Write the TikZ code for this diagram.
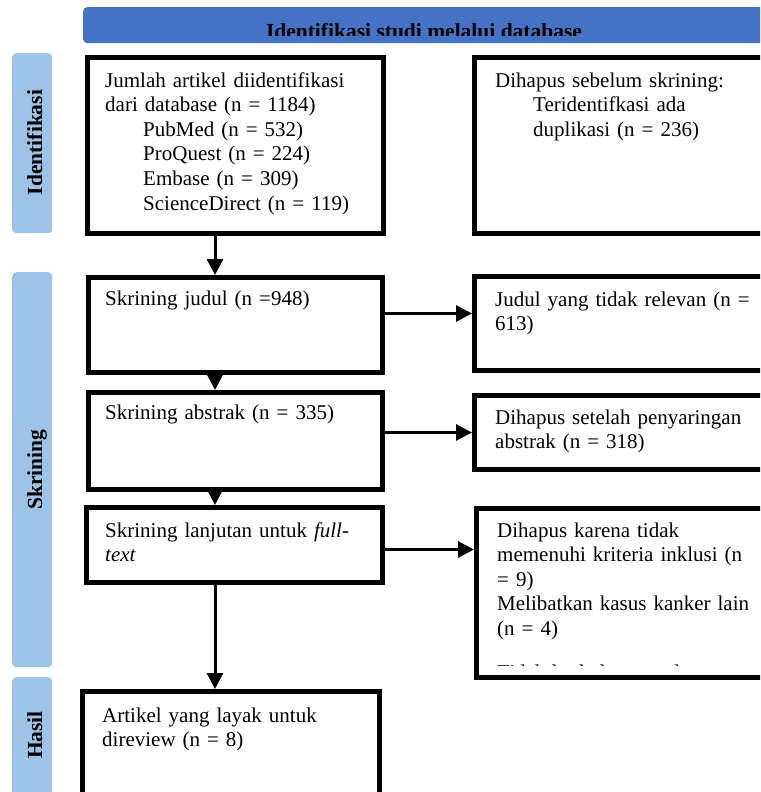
\documentclass[tikz,border=0pt]{standalone}
\usepackage{fontspec}
\setmainfont{Liberation Serif}
\usetikzlibrary{arrows.meta}
\definecolor{hdrblue}{HTML}{4472C4}
\definecolor{sideblue}{HTML}{9DC3E6}

\begin{document}
\begin{tikzpicture}[x=1pt, y=-1pt,
    frame/.style={draw, line width=5pt, anchor=north west, inner sep=0pt},
    side/.style={fill=sideblue, rounded corners=4pt, anchor=north west, inner sep=0pt},
    txt/.style={anchor=base west, inner sep=0pt, text width=275pt, align=left,
        font=\fontsize{21}{24.6}\selectfont},
    lbl/.style={rotate=90, anchor=base, inner sep=0pt,
        font=\fontsize{21.5}{24.6}\selectfont\bfseries},
    flow/.style={line width=3pt, -{Triangle[length=16pt, width=16pt]}}
]
    % Page size and clipping
    \useasboundingbox (0,0) rectangle (760,792);
    \clip (0,0) rectangle (760,792);
    \def\ind{\hspace*{38pt}}

    % Header bar
    \node[fill=hdrblue, rounded corners=4pt, anchor=north west, inner sep=0pt,
        minimum width=682pt, minimum height=36pt] (hdr) at (83,7) {};
    \begin{scope}
        \clip (83,7) rectangle (765,35.5);
        \node[anchor=base, inner sep=0pt, font=\fontsize{21.5}{24.6}\selectfont\bfseries]
            (hdrtext) at (424,39) {Identifikasi studi melalui database};
    \end{scope}

    % Side labels
    \foreach \name/\y/\h/\cy/\label in {
        sideid/53/180/142.5/Identifikasi,
        sidesk/272/395/469.5/Skrining,
        sidehs/677/125/735/Hasil
    } {
        \node[side, minimum width=40pt, minimum height=\h pt] (\name) at (12,\y) {};
        \node[lbl] (\name text) at (42,\cy) {\label};
    }

    % Frames
    \foreach \name/\x/\y/\w/\h in {
        b1/85/55/296/176,
        b2/472/55/300/176,
        b3/86/275/294/95,
        b4/472/274/300/94,
        b5/86/390/294/97,
        b6/472/393/300/74,
        b7/84/505/296/75,
        b8/474/506/300/169,
        b9/80/689/297/120
    } {
        \node[frame, minimum width=\w pt, minimum height=\h pt] (\name) at (\x,\y) {};
    }

    % Texts
    \node[txt] (t1) at (105,87) {Jumlah artikel diidentifikasi\\dari database (n = 1184)\\
        \ind PubMed (n = 532)\\\ind ProQuest (n = 224)\\\ind Embase (n = 309)\\
        \ind ScienceDirect (n = 119)};
    \node[txt] (t2) at (495,87) {Dihapus sebelum skrining:\\\ind Teridentifkasi ada\\
        \ind duplikasi (n = 236)};
    \node[txt] (t3) at (105,305) {Skrining judul (n =948)};
    \node[txt] (t4) at (495,306) {Judul yang tidak relevan (n =\\613)};
    \node[txt] (t5) at (105,419) {Skrining abstrak (n = 335)};
    \node[txt] (t6) at (495,424) {Dihapus setelah penyaringan\\abstrak (n = 318)};
    \node[txt] (t7) at (105,537) {Skrining lanjutan untuk \textit{full-}\\\textit{text}};
    \node[txt] (t8) at (497,537) {Dihapus karena tidak\\memenuhi kriteria inklusi (n\\
        = 9)\\Melibatkan kasus kanker lain\\(n = 4)};
    \begin{scope}
        \clip (476,650) rectangle (770,665);
        \node[txt] (t8b) at (497,679) {Tidak berhubungan dengan topik (};
    \end{scope}
    \node[txt] (t9) at (102,722) {Artikel yang layak untuk\\direview (n = 8)};

    % Arrows down the main column
    \coordinate (spine) at (215,0);
    \foreach \src/\dst in {b1/b3, b3/b5, b5/b7, b7/b9} {
        \draw[flow] (\src.south -| spine) -- (\dst.north -| spine);
    }
    % Arrows to the excluded boxes
    \foreach \src/\dst/\dy in {b3/b4/11.5, b5/b6/8.5, b7/b8/-4.5} {
        \coordinate (from) at ([yshift=\dy pt]\src.east);
        \draw[flow] (from) -- (from -| \dst.west);
    }
\end{tikzpicture}
\end{document}
